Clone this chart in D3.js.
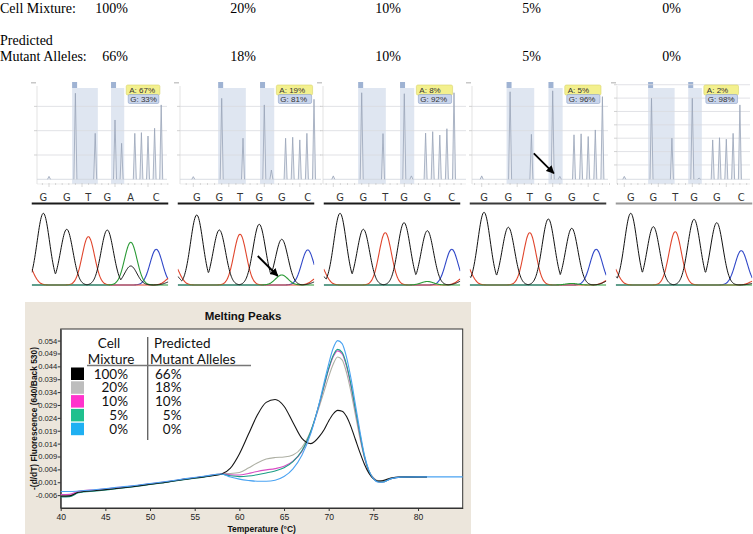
<!DOCTYPE html>
<html><head><meta charset="utf-8">
<script src="https://cdn.jsdelivr.net/npm/d3@7"></script>
<style>body{margin:0;background:#fff}svg{display:block}</style>
</head><body>
<svg id="c" width="753" height="534"></svg>
<script>
// ================= DATA =================
const cellMixture = ["100%", "20%", "10%", "5%", "0%"];
const predictedMutant = ["66%", "18%", "10%", "5%", "0%"];

// Pyrogram: allele quantification labels
const pyroA = ["A: 67%", "A: 19%", "A: 8%", "A: 5%", "A: 2%"];
const pyroG = ["G: 33%", "G: 81%", "G: 92%", "G: 96%", "G: 98%"];
// Pyrogram peak heights per dispensation (0..17)
const pyro1 = [0.12,0,0,0,3.54,0,0,1.89,0,0,2.44,1.48,0,1.89,1.92,1.78,2.10,3.06];
const pyro2 = [0.11,0,0,0,3.33,0,0,1.69,0,0,3.06,0.38,0,1.69,1.73,1.62,1.89,3.29];
const pyro3 = [0.14,0,0,0,3.56,0,0,1.88,0,0,3.52,0.14,0,1.90,1.96,1.82,2.08,3.56];
const pyro4 = [0.14,0,0,0,3.60,0,0,1.85,0,0,3.64,0.12,0,1.83,1.87,1.76,2.03,3.40];
const pyro5 = [0.12,0,0,0,3.33,0,0,1.69,0,0,3.33,0.05,0,1.62,1.71,1.65,1.89,3.06];
const pyroShaded = [[3.5, 7.4], [9.4, 11.4]];

// Sanger chromatograms: base calls and peak heights per channel
const baseCalls1 = ["G","G","T","G","A","C"];
const baseCalls2 = ["G","G","T","G","G","C"];
// peak positions (scan units) incl. edge peaks at both ends
const chromPos1 = [-5, 11.6, 35, 56.6, 75.5, 99, 124.5, 141];
const chromPos2 = [-5, 19, 41.6, 62.3, 81.5, 104, 130, 141];
const chromPos3 = [-5, 16.3, 39.6, 61.5, 80.3, 103.6, 128, 141];
const chromPos4 = [-5, 14.3, 38.6, 60, 78.6, 102, 126.5, 141];
const chromPos5 = [-5, 15, 37.6, 59.5, 78.3, 101, 125.5, 141];
const chromG1 = [12, 71.7, 55.7, 0, 55.0, 19.0, 0, 4];
const chromA1 = [0, 0, 0, 0, 0, 42.7, 0, 0];
const chromT1 = [22, 0, 0, 48.3, 0, 0, 0, 9];
const chromC1 = [0, 0, 0, 0, 0, 0, 35.7, 0];
const chromG2 = [12, 70.0, 55.0, 0, 60.7, 45.7, 0, 4];
const chromA2 = [0, 0, 0, 0, 0, 10.0, 0, 0];
const chromT2 = [22, 0, 0, 50.7, 0, 0, 0, 8];
const chromC2 = [0, 0, 0, 0, 0, 0, 35.0, 0];
const chromG3 = [12, 71.7, 55.7, 0, 62.3, 54.3, 0, 5];
const chromA3 = [0, 0, 0, 0, 0, 3.5, 0, 0];
const chromT3 = [22, 0, 0, 52.3, 0, 0, 0, 8];
const chromC3 = [0, 0, 0, 0, 0, 0, 35.7, 0];
const chromG4 = [12, 72.7, 57.7, 0, 66.0, 56.7, 0, 5];
const chromA4 = [0, 0, 0, 0, 0, 1.5, 0, 0];
const chromT4 = [22, 0, 0, 52.3, 0, 0, 0, 6];
const chromC4 = [0, 0, 0, 0, 0, 0, 35.7, 0];
const chromG5 = [12, 71.7, 58.3, 0, 65.7, 62.3, 0, 2];
const chromA5 = [0, 0, 0, 0, 0, 0, 0, 0];
const chromT5 = [22, 0, 0, 53.3, 0, 0, 0, 5];
const chromC5 = [0, 0, 0, 0, 0, 0, 34.3, 0];

// Melting peaks
const temps = [40,41,42,44,46,48,50,52,54,56,58,59,60,61,62,63,64,65,66,67,68,69,69.5,70,70.5,71,71.5,72,72.5,73,73.5,74,74.5,75,75.5,76,77,78,80,81,85];
const melt100 = [-0.0064,-0.0063,-0.0049,-0.0042,-0.0035,-0.0027,-0.0018,-0.0009,0.0002,0.0011,0.0022,0.0045,0.0100,0.0175,0.0250,0.0300,0.0311,0.0285,0.0222,0.0160,0.0140,0.0170,0.0195,0.0228,0.0255,0.0269,0.0266,0.0245,0.0205,0.0155,0.0105,0.0060,0.0025,0.0004,-0.0005,-0.0004,0.0006,0.0010,0.0011,0.0011,null];
const melt20 = [-0.0062,-0.0061,-0.0048,-0.0041,-0.0034,-0.0026,-0.0017,-0.0008,0.0003,0.0012,0.0023,0.0024,0.0028,0.0045,0.0065,0.0080,0.0086,0.0088,0.0096,0.0125,0.0190,0.0290,0.0345,0.0400,0.0448,0.0476,0.0465,0.0415,0.0340,0.0250,0.0160,0.0085,0.0035,0.0008,-0.0003,-0.0003,0.0007,0.0010,0.0011,0.0011,null];
const melt10 = [-0.0058,-0.0057,-0.0045,-0.0039,-0.0032,-0.0025,-0.0016,-0.0007,0.0003,0.0012,0.0022,0.0019,0.0018,0.0024,0.0032,0.0038,0.0043,0.0052,0.0072,0.0110,0.0185,0.0300,0.0365,0.0428,0.0477,0.0500,0.0488,0.0440,0.0362,0.0268,0.0172,0.0088,0.0032,0.0005,-0.0008,-0.0009,0.0004,0.0010,0.0011,0.0011,null];
const melt5 = [-0.0067,-0.0066,-0.0051,-0.0044,-0.0036,-0.0028,-0.0019,-0.0010,0.0001,0.0010,0.0021,0.0015,0.0012,0.0014,0.0019,0.0026,0.0034,0.0046,0.0070,0.0112,0.0188,0.0302,0.0368,0.0432,0.0482,0.0506,0.0494,0.0446,0.0368,0.0272,0.0176,0.0090,0.0033,0.0004,-0.0008,-0.0009,0.0004,0.0010,0.0011,0.0011,null];
const melt0 = [-0.0046,-0.0046,-0.0044,-0.0038,-0.0031,-0.0024,-0.0015,-0.0006,0.0004,0.0013,0.0022,0.0010,0.0002,-0.0003,-0.0006,-0.0006,-0.0002,0.0012,0.0042,0.0095,0.0180,0.0305,0.0380,0.0450,0.0510,0.0540,0.0528,0.0475,0.0392,0.0290,0.0188,0.0096,0.0036,0.0004,-0.0009,-0.0010,0.0004,0.0010,0.0011,0.0011,0.0011];
const meltYTicks = [-0.006,-0.001,0.004,0.009,0.014,0.019,0.024,0.029,0.034,0.039,0.044,0.049,0.054];
const meltXTicks = [40,45,50,55,60,65,70,75,80];

// ================= DRAW =================
const svg = d3.select("#c");
const serif = "'Liberation Serif','Times New Roman',serif";
const sans = "'Liberation Sans',Arial,sans-serif";

// ---- top header text ----
const hdr = svg.append("g").attr("font-family", serif).attr("font-size", 14).attr("fill", "#000");
hdr.append("text").attr("x", 0).attr("y", 13).text("Cell Mixture:");
hdr.append("text").attr("x", 0).attr("y", 45).text("Predicted");
hdr.append("text").attr("x", 0).attr("y", 61).text("Mutant Alleles:");
const hdrRight = [128, 256, 401, 541, 681];
hdr.selectAll("text.cm").data(cellMixture).join("text").attr("class", "cm")
  .attr("x", (d, i) => hdrRight[i]).attr("y", 13).attr("text-anchor", "end").text(d => d);
hdr.selectAll("text.pm").data(predictedMutant).join("text").attr("class", "pm")
  .attr("x", (d, i) => hdrRight[i]).attr("y", 61).attr("text-anchor", "end").text(d => d);

// ---- defs ----
const defs = svg.append("defs");
defs.append("marker").attr("id", "ah").attr("viewBox", "0 0 10 10").attr("refX", 9).attr("refY", 5)
  .attr("markerWidth", 4.5).attr("markerHeight", 4.5).attr("orient", "auto")
  .append("path").attr("d", "M0,0 L10,5 L0,10 z").attr("fill", "#000");

// ---- pyrograms ----
const pyroData = [pyro1, pyro2, pyro3, pyro4, pyro5];
const pyroLeft = [37, 180, 323, 472, 617], pyroRight = [167, 321, 466, 608, 750];
const pyroX0 = [49, 193.3, 333.3, 481.7, 624.3], pyroStep = [6.6, 7.1, 7.1, 7.1, 6.8];
const yP = d3.scaleLinear().domain([0, 3.92]).range([179.3, 84]);

pyroData.forEach((pk, i) => {
  const g = svg.append("g");
  const x = d3.scaleLinear().domain([0, 17]).range([pyroX0[i], pyroX0[i] + 17 * pyroStep[i]]);
  const gridVals = i === 4 ? d3.range(0.59, 3.9, 0.55) : [1, 2, 3];
  pyroShaded.forEach(([a, b]) => {
    g.append("rect").attr("x", x(a)).attr("y", 88).attr("width", x(b) - x(a)).attr("height", 96)
      .attr("fill", "#dfe6f1");
    g.append("rect").attr("x", x(a)).attr("y", 82).attr("width", 5).attr("height", 6)
      .attr("fill", "#9fb3d3");
  });
  g.selectAll("line.gr").data(gridVals).join("line").attr("class", "gr")
    .attr("x1", pyroLeft[i]).attr("x2", pyroRight[i]).attr("y1", d => yP(d)).attr("y2", d => yP(d))
    .attr("stroke", "#d9dbe0").attr("stroke-width", 0.8);
  g.append("line").attr("x1", pyroLeft[i]).attr("x2", pyroLeft[i]).attr("y1", 86).attr("y2", 184)
    .attr("stroke", "#dcdcdc").attr("stroke-width", 0.8);
  g.selectAll("line.lt").data(gridVals).join("line").attr("class", "lt")
    .attr("x1", pyroLeft[i] - 3).attr("x2", pyroLeft[i]).attr("y1", d => yP(d)).attr("y2", d => yP(d))
    .attr("stroke", "#c8c8c8").attr("stroke-width", 0.8);
  g.append("rect").attr("x", pyroLeft[i] - 6).attr("y", 82).attr("width", 5).attr("height", 1.5).attr("fill", "#c8c8c8");
  g.append("line").attr("x1", pyroLeft[i]).attr("x2", pyroRight[i]).attr("y1", yP(0)).attr("y2", yP(0))
    .attr("stroke", "#d0d4dc").attr("stroke-width", 0.8);
  g.append("line").attr("x1", pyroLeft[i]).attr("x2", pyroRight[i]).attr("y1", 184).attr("y2", 184)
    .attr("stroke", "#e2e2e2").attr("stroke-width", 0.6);
  g.selectAll("line.bt").data(d3.range(-1, 19)).join("line").attr("class", "bt")
    .attr("x1", d => x(d)).attr("x2", d => x(d)).attr("y1", 183).attr("y2", d => (d % 5 === 0 ? 187 : 185))
    .attr("stroke", "#bdbdbd").attr("stroke-width", 0.6);
  g.selectAll("path.pk").data(pk.map((h, j) => ({ h, j })).filter(d => d.h > 0)).join("path").attr("class", "pk")
    .attr("d", d => `M${x(d.j) - 1.5},${yP(0)}L${x(d.j)},${yP(d.h)}L${x(d.j) + 1.5},${yP(0)}`)
    .attr("fill", "#e9ecf2").attr("stroke", "#98a3b8").attr("stroke-width", 0.8);
  const bx = x(11.7), bw = x(16.8) - x(11.7);
  g.append("rect").attr("x", bx).attr("y", 85).attr("width", bw).attr("height", 10).attr("rx", 1.5)
    .attr("fill", "#f3f08e").attr("stroke", "#d9d36a").attr("stroke-width", 0.6);
  g.append("rect").attr("x", bx + 2).attr("y", 94.5).attr("width", bw - 3).attr("height", 9).attr("rx", 1.5)
    .attr("fill", "#c9d5ec").attr("stroke", "#8fa3c8").attr("stroke-width", 0.6);
  g.append("text").attr("x", bx + 3).attr("y", 93).attr("font-family", sans).attr("font-size", 8)
    .attr("fill", "#333").text(pyroA[i]);
  g.append("text").attr("x", bx + 4).attr("y", 102).attr("font-family", sans).attr("font-size", 8)
    .attr("fill", "#333").text(pyroG[i]);
  if (i === 3) {
    const ex = x(11) - 6, ey = yP(0) - 6;
    g.append("line").attr("x1", ex - 20).attr("y1", ey - 20).attr("x2", ex).attr("y2", ey)
      .attr("stroke", "#000").attr("stroke-width", 1.8).attr("marker-end", "url(#ah)");
  }
});

// ---- chromatograms ----
const band = d3.scaleBand().domain(d3.range(5)).range([27, 757]).paddingInner(0.065).paddingOuter(0.0325);
const yC = d3.scaleLinear().domain([0, 80]).range([285, 205]);
const chromPos = [chromPos1, chromPos2, chromPos3, chromPos4, chromPos5];
const chromCh = [
  { G: chromG1, A: chromA1, T: chromT1, C: chromC1 },
  { G: chromG2, A: chromA2, T: chromT2, C: chromC2 },
  { G: chromG3, A: chromA3, T: chromT3, C: chromC3 },
  { G: chromG4, A: chromA4, T: chromT4, C: chromC4 },
  { G: chromG5, A: chromA5, T: chromT5, C: chromC5 }];
const baseCalls = [baseCalls1, baseCalls2, baseCalls2, baseCalls2, baseCalls2];
const chColors = { G: "#111", A: "#2a9a35", T: "#e0452c", C: "#3148c8" };
const lineCol = ["#1a1a1a", "#1a1a1a", "#1a1a1a", "#3a3a3a", "#9a9a9a"];
const sig = 6.2;

for (let i = 0; i < 5; i++) {
  const b0 = band(i), bw = band.bandwidth();
  const x = d3.scaleLinear().domain([0, 136.5]).range([b0, b0 + bw]);
  const g = svg.append("g");
  defs.append("clipPath").attr("id", "cc" + i).append("rect")
    .attr("x", b0).attr("y", 200).attr("width", bw).attr("height", 90);
  g.selectAll("text.bl").data(baseCalls[i]).join("text").attr("class", "bl")
    .attr("x", (d, k) => x(chromPos[i][k + 1])).attr("y", 200.5).attr("text-anchor", "middle")
    .attr("font-family", "'Liberation Sans Narrow','DejaVu Sans Condensed',sans-serif")
    .attr("font-size", 11).attr("fill", "#333").text(d => d);
  g.append("line").attr("x1", b0).attr("x2", b0 + bw).attr("y1", 203.5).attr("y2", 203.5)
    .attr("stroke", lineCol[i]).attr("stroke-width", 2);
  const traces = g.append("g").attr("clip-path", `url(#cc${i})`);
  const samples = d3.range(0, 136.6, 0.5);
  ["C", "T", "A", "G"].forEach(ch => {
    const hs = chromCh[i][ch];
    const pts = samples.map(s => [s, d3.max(hs, (h, k) => h * Math.exp(-((s - chromPos[i][k]) ** 2) / (2 * sig * sig)))]);
    traces.append("path").datum(pts)
      .attr("d", d3.line().x(d => x(d[0])).y(d => yC(d[1])).curve(d3.curveMonotoneX))
      .attr("fill", "none").attr("stroke", chColors[ch]).attr("stroke-width", ch === "G" ? 1 : 1.1);
  });
  if (i === 1) {
    const ex = x(chromPos[1][5]) - 4, ey = yC(chromA2[5]) + 1;
    g.append("line").attr("x1", ex - 20).attr("y1", ey - 20).attr("x2", ex).attr("y2", ey)
      .attr("stroke", "#000").attr("stroke-width", 1.8).attr("marker-end", "url(#ah)");
  }
}

// ---- melting peaks ----
const mp = svg.append("g");
mp.append("rect").attr("x", 25).attr("y", 302).attr("width", 446).attr("height", 232).attr("fill", "#ece6dc");
mp.append("text").attr("x", 243).attr("y", 320).attr("text-anchor", "middle")
  .attr("font-family", sans).attr("font-weight", "bold").attr("font-size", 11.5).attr("fill", "#111").text("Melting Peaks");
const mx = d3.scaleLinear().domain([40, 85]).range([60.7, 462.7]);
const my = d3.scaleLinear().domain([-0.011, 0.0585]).range([508, 329]);
mp.append("rect").attr("x", mx(40)).attr("y", my(0.0585)).attr("width", mx(85) - mx(40)).attr("height", my(-0.011) - my(0.0585))
  .attr("fill", "#fff").attr("stroke", "#333").attr("stroke-width", 1);

const fmt = v => d3.format(".3f")(v).replace("\u2212", "-");
const ya = mp.append("g").attr("transform", `translate(${mx(40)},0)`)
  .call(d3.axisLeft(my).tickValues(meltYTicks).tickFormat(fmt).tickSize(3).tickSizeOuter(0));
const xa = mp.append("g").attr("transform", `translate(0,${my(-0.011)})`)
  .call(d3.axisBottom(mx).tickValues(meltXTicks).tickFormat(d3.format("d")).tickSize(3).tickSizeOuter(0));
[ya, xa].forEach(a => {
  a.select(".domain").attr("stroke", "#333");
  a.selectAll("line").attr("stroke", "#333");
  a.selectAll("text").attr("font-family", sans).attr("fill", "#222");
});
ya.selectAll("text").attr("x", -3.5).attr("font-size", 7.6);
xa.selectAll("text").attr("y", 6).attr("font-size", 8.6);
mp.append("text").attr("x", (mx(40) + mx(85)) / 2).attr("y", 532).attr("text-anchor", "middle")
  .attr("font-family", sans).attr("font-weight", "bold").attr("font-size", 8.5).attr("fill", "#111").text("Temperature (°C)");
mp.append("text").attr("transform", `translate(37,${(my(0.0585) + my(-0.011)) / 2}) rotate(-90)`)
  .attr("text-anchor", "middle").attr("font-family", sans).attr("font-weight", "bold").attr("font-size", 8.4)
  .attr("fill", "#111").text("-(d/dT) Fluorescence (640/Back 530)");

const series = [
  { v: melt20, c: "#aeb0a4" },
  { v: melt10, c: "#d94dc4" },
  { v: melt5, c: "#1c9e86" },
  { v: melt100, c: "#151515" },
  { v: melt0, c: "#4aa3f2" }];
const ln = d3.line().defined(d => d[1] !== null).x(d => mx(d[0])).y(d => my(d[1])).curve(d3.curveMonotoneX);
series.forEach(s => {
  mp.append("path").datum(temps.map((t, k) => [t, s.v[k]])).attr("d", ln)
    .attr("fill", "none").attr("stroke", s.c).attr("stroke-width", 1.1);
});

// legend
const legendColors = ["#000000", "#bdbdbd", "#ff33cc", "#1fc08e", "#1fb0f2"];
const lf = "Lato,'Open Sans',sans-serif";
const lg = mp.append("g").attr("font-family", lf).attr("font-size", 13.5).attr("fill", "#111");
lg.append("text").attr("x", 109).attr("y", 348).attr("text-anchor", "middle").text("Cell");
lg.append("text").attr("x", 111).attr("y", 364).attr("text-anchor", "middle").text("Mixture");
lg.append("text").attr("x", 154).attr("y", 348).text("Predicted");
lg.append("text").attr("x", 150).attr("y", 364).text("Mutant Alleles");
lg.append("line").attr("x1", 147.7).attr("x2", 147.7).attr("y1", 337).attr("y2", 440).attr("stroke", "#666").attr("stroke-width", 1.4);
lg.append("line").attr("x1", 87).attr("x2", 251).attr("y1", 365.5).attr("y2", 365.5).attr("stroke", "#777").attr("stroke-width", 1.4);
lg.selectAll("rect.sw").data(legendColors).join("rect").attr("class", "sw")
  .attr("x", 71).attr("y", (d, k) => 367.5 + k * 13.8).attr("width", 13).attr("height", 12.5).attr("fill", d => d);
lg.selectAll("text.c1").data(cellMixture).join("text").attr("class", "c1")
  .attr("x", 128).attr("y", (d, k) => 378.5 + k * 13.8).attr("text-anchor", "end").text(d => d);
lg.selectAll("text.c2").data(predictedMutant).join("text").attr("class", "c2")
  .attr("x", 181.5).attr("y", (d, k) => 378.5 + k * 13.8).attr("text-anchor", "end").text(d => d);
</script>
</body></html>
